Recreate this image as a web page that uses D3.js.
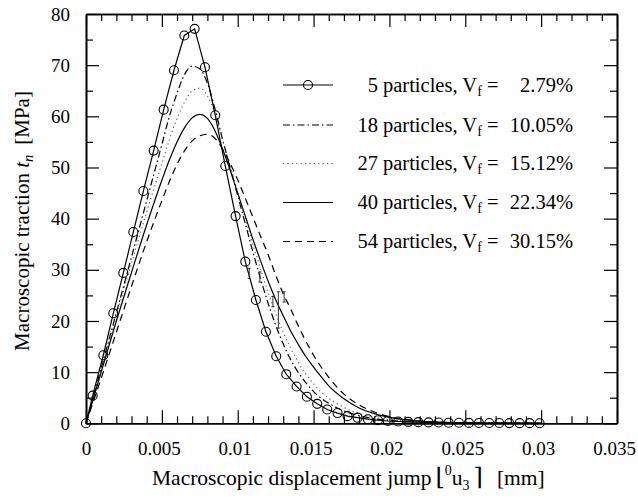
<!DOCTYPE html>
<html><head><meta charset="utf-8">
<script src="https://cdn.jsdelivr.net/npm/d3@7"></script>
<style>
html,body{margin:0;padding:0;background:#fff;}
svg{display:block;}
svg text{font-family:"Liberation Serif","Times New Roman",Times,serif !important;}
svg text .sym{font-family:"DejaVu Serif",serif !important;}
</style></head>
<body>
<svg id="chart" width="638" height="498"></svg>
<script>
// ---------- data ----------
const xTicks = [0, 0.005, 0.01, 0.015, 0.02, 0.025, 0.03, 0.035];
const xTickLabels = ["0", "0.005", "0.01", "0.015", "0.02", "0.025", "0.03", "0.035"];
const xMinorTicks = [0.001,0.002,0.003,0.004,0.006,0.007,0.008,0.009,0.011,0.012,0.013,0.014,0.016,0.017,0.018,0.019,0.021,0.022,0.023,0.024,0.026,0.027,0.028,0.029,0.031,0.032,0.033,0.034];
const yTicks = [0, 10, 20, 30, 40, 50, 60, 70, 80];
const yTickLabels = ["0", "10", "20", "30", "40", "50", "60", "70", "80"];
const yMinorTicks = [5, 15, 25, 35, 45, 55, 65, 75];

// 5 particles (markers)
const p5X = [0,0.00044,0.00114,0.0018,0.00246,0.00312,0.00378,0.00446,0.00512,0.0058,0.00648,0.00716,0.00784,0.00852,0.00918,0.00986,0.0105,0.0112,0.01186,0.01254,0.0132,0.01388,0.01456,0.01524,0.0159,0.01658,0.01724,0.0179,0.01858,0.01924,0.0199,0.02058,0.02124,0.0219,0.02258,0.02324,0.0239,0.02458,0.02524,0.0259,0.02658,0.02724,0.0279,0.02858,0.02924,0.0299];
const p5Y = [0,5.4,13.3,21.5,29.4,37.4,45.4,53.3,61.3,69.0,75.8,77.1,69.6,60.2,50.3,40.5,31.6,24.1,17.9,13.1,9.6,7.2,5.2,3.8,2.7,2.0,1.4,1.1,0.8,0.6,0.45,0.35,0.28,0.22,0.18,0.15,0.12,0.1,0.08,0.07,0.06,0.05,0.04,0.03,0.03,0.02];

// smooth curves share this displacement grid
const curveX = [0,0.001,0.002,0.003,0.004,0.005,0.0055,0.006,0.0065,0.007,0.0075,0.008,0.0085,0.009,0.0095,0.01,0.0105,0.011,0.0115,0.012,0.0125,0.013,0.0135,0.014,0.0145,0.015,0.0155,0.016,0.017,0.018,0.019,0.02,0.021,0.022,0.023,0.024,0.025,0.027,0.03];
const p18Y = [0,10.8,21.6,32.5,43.5,54.5,60,64.5,68.2,69.8,69.3,66.5,61.5,55.5,50,44.5,39,33.5,28.3,23.5,19.2,15.5,12.4,9.9,7.9,6.2,4.9,3.9,2.4,1.5,0.9,0.55,0.33,0.2,0.13,0.08,0.05,0.02,0];
const p27Y = [0,10.5,21,31.3,41.3,50.8,55.5,59.6,62.8,65,65.5,64,60.5,55.5,50.3,45.2,40,35,30.2,25.6,21.5,17.8,14.6,11.9,9.6,7.7,6.1,4.9,3.1,1.9,1.2,0.7,0.42,0.26,0.16,0.1,0.06,0.03,0];
const p40Y = [0,10,20,29.5,38.8,47.5,51.5,55,57.8,59.7,60.4,59.6,57.2,53.6,49.5,45,40.5,36,31.8,27.8,24.2,21,18,15.4,13,11,9.1,7.3,4.8,3.0,1.9,1.15,0.7,0.42,0.26,0.16,0.1,0.04,0.01];
const p54Y = [0,8.8,17.8,26.8,35.5,43.5,47.3,50.6,53.3,55.2,56.2,56.5,55.7,53.6,50.8,47.6,44,40.3,36.6,33,29,25.3,22.3,19,16,13.3,11,9,5.7,3.6,2.2,1.3,0.8,0.45,0.25,0.15,0.09,0.04,0.01];

// small error bars seen on the softening branch
const errX = [0.01076, 0.01146, 0.01232, 0.01268, 0.01306];
const errLow = [28.3, 27.6, 22.8, 18.6, 23.7];
const errHigh = [30.3, 29.6, 24.8, 25.7, 25.7];

const legendNums = ["5", "18", "27", "40", "54"];
const legendPcts = ["2.79%", "10.05%", "15.12%", "22.34%", "30.15%"];
const legendDash = [null, "7,3,1.5,3", "1.2,3.2", null, "7,5"];

// ---------- drawing ----------
const svg = d3.select("#chart");
const L = 86, R = 617, T = 14, B = 423.3;
const x = d3.scaleLinear().domain([0, 0.035]).range([L, R]);
const y = d3.scaleLinear().domain([0, 80]).range([B, T]);

const FS = 19;
const tickLabel = (arr, vals) => d => arr[vals.indexOf(d)];

const gB = svg.append("g").attr("transform", `translate(0,${B})`)
  .call(d3.axisBottom(x).tickValues(xTicks).tickFormat(tickLabel(xTickLabels, xTicks)).tickSize(-13).tickSizeOuter(0).tickPadding(18));
gB.selectAll(".tick text").attr("dx", d => d === 0 ? 0 : -3);
svg.append("g").attr("transform", `translate(0,${B})`)
  .call(d3.axisBottom(x).tickValues(xMinorTicks).tickFormat("").tickSize(-7).tickSizeOuter(0));
svg.append("g").attr("transform", `translate(0,${T})`)
  .call(d3.axisTop(x).tickValues(xTicks).tickFormat("").tickSize(-13).tickSizeOuter(0));
svg.append("g").attr("transform", `translate(0,${T})`)
  .call(d3.axisTop(x).tickValues(xMinorTicks).tickFormat("").tickSize(-7).tickSizeOuter(0));
svg.append("g").attr("transform", `translate(${L},0)`)
  .call(d3.axisLeft(y).tickValues(yTicks).tickFormat(tickLabel(yTickLabels, yTicks)).tickSize(-13).tickSizeOuter(0).tickPadding(16));
svg.append("g").attr("transform", `translate(${L},0)`)
  .call(d3.axisLeft(y).tickValues(yMinorTicks).tickFormat("").tickSize(-7).tickSizeOuter(0));
svg.append("g").attr("transform", `translate(${R},0)`)
  .call(d3.axisRight(y).tickValues(yTicks).tickFormat("").tickSize(-13).tickSizeOuter(0));
svg.append("g").attr("transform", `translate(${R},0)`)
  .call(d3.axisRight(y).tickValues(yMinorTicks).tickFormat("").tickSize(-7).tickSizeOuter(0));

svg.selectAll(".domain").attr("stroke", "#000").attr("stroke-width", 1.6);
svg.selectAll(".tick line").attr("stroke", "#000").attr("stroke-width", 1.2);
svg.selectAll(".tick text").attr("font-size", FS).attr("fill", "#000");

const smooth = d3.line().x(d => x(d[0])).y(d => y(d[1])).curve(d3.curveMonotoneX);
const straight = d3.line().x(d => x(d[0])).y(d => y(d[1]));
const plot = svg.append("g");
[p18Y, p27Y, p40Y, p54Y].forEach((ys, i) => {
  plot.append("path")
    .datum(curveX.map((xv, j) => [xv, ys[j]]))
    .attr("d", smooth)
    .attr("fill", "none")
    .attr("stroke", i === 1 ? "#555" : "#000")
    .attr("stroke-width", i === 1 ? 1.1 : 1.2)
    .attr("stroke-dasharray", legendDash[i + 1]);
});
const p5 = p5X.map((xv, j) => [xv, p5Y[j]]);
plot.append("path").datum(p5).attr("d", straight).attr("fill", "none").attr("stroke", "#000").attr("stroke-width", 1.2);
plot.selectAll("circle.m").data(p5).enter().append("circle")
  .attr("cx", d => x(d[0])).attr("cy", d => y(d[1])).attr("r", 4.5)
  .attr("fill", "none").attr("stroke", "#000").attr("stroke-width", 1.1);

errX.forEach((xv, i) => {
  const g = plot.append("g").attr("stroke", "#333").attr("stroke-width", 1);
  g.append("line").attr("x1", x(xv)).attr("x2", x(xv)).attr("y1", y(errLow[i])).attr("y2", y(errHigh[i]));
  [errLow[i], errHigh[i]].forEach(v => g.append("line").attr("x1", x(xv) - 1.5).attr("x2", x(xv) + 1.5).attr("y1", y(v)).attr("y2", y(v)));
});

const rowY = [85, 125, 163.5, 202.5, 241.5];
const lg = svg.append("g").attr("font-size", 20.5).attr("fill", "#000");
rowY.forEach((ry, i) => {
  lg.append("line").attr("x1", 283).attr("x2", 333).attr("y1", ry).attr("y2", ry)
    .attr("stroke", i === 2 ? "#555" : "#000").attr("stroke-width", 1.2)
    .attr("stroke-dasharray", legendDash[i]);
  if (i === 0) lg.append("circle").attr("cx", 308).attr("cy", ry).attr("r", 4.5).attr("fill", "none").attr("stroke", "#000").attr("stroke-width", 1.1);
  lg.append("text").attr("x", 378).attr("y", ry + 6.5).attr("text-anchor", "end").text(legendNums[i]);
  const t = lg.append("text").attr("x", 383).attr("y", ry + 6.5);
  t.append("tspan").text("particles, V");
  t.append("tspan").attr("font-size", 14).attr("dy", 4).text("f");
  t.append("tspan").attr("dy", -4).text(" =");
  lg.append("text").attr("x", 573).attr("y", ry + 6.5).attr("text-anchor", "end").text(legendPcts[i]);
});

const yl = svg.append("text").attr("transform", "translate(29,221) rotate(-90)")
  .attr("text-anchor", "middle").attr("font-size", 21);
yl.append("tspan").text("Macroscopic traction ");
yl.append("tspan").attr("font-style", "italic").text("t");
yl.append("tspan").attr("font-style", "italic").attr("font-size", 14.5).attr("dy", 4).text("n");
yl.append("tspan").attr("dy", -4).attr("dx", 10).text("[MPa]");

const xl = svg.append("text").attr("x", 152).attr("y", 485).attr("font-size", 21.5);
xl.append("tspan").text("Macroscopic displacement jump");
xl.append("tspan").attr("class", "sym").attr("dx", 4).attr("font-size", 24).text("\u230A");
xl.append("tspan").attr("font-size", 14).attr("dy", -10).text("0");
xl.append("tspan").attr("dy", 10).text("u");
xl.append("tspan").attr("font-size", 14).attr("dy", 5).text("3");
xl.append("tspan").attr("class", "sym").attr("dy", -5).attr("dx", 4).attr("font-size", 24).text("\u2309");
xl.append("tspan").attr("dx", 14).text("[mm]");
</script>
</body></html>
